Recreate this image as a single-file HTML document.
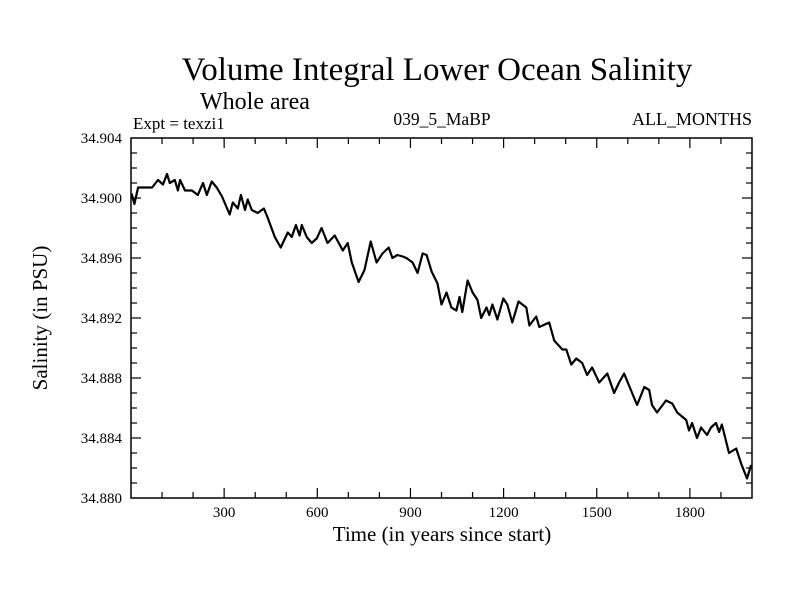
<!DOCTYPE html>
<html><head><meta charset="utf-8"><style>
body{margin:0;background:#fff}
svg text{font-family:"Liberation Serif",serif;fill:#000}
</style></head><body>
<svg id="chart" width="800" height="600" xmlns="http://www.w3.org/2000/svg">
<text x="437" y="80" font-size="33" text-anchor="middle">Volume Integral Lower Ocean Salinity</text>
<text x="200" y="109" font-size="24">Whole area</text>
<text x="133" y="129" font-size="17">Expt = texzi1</text>
<text x="442" y="125" font-size="17.5" text-anchor="middle">039_5_MaBP</text>
<text x="752" y="125" font-size="18" text-anchor="end">ALL_MONTHS</text>
<text transform="translate(47,318) rotate(-90)" font-size="21" text-anchor="middle">Salinity (in PSU)</text>
<text x="442" y="541" font-size="21" text-anchor="middle">Time (in years since start)</text>
<g id="axes"></g>
<rect x="131" y="138" width="621" height="360" fill="none" stroke="#000" stroke-width="1.5"/>
<path id="line" fill="none" stroke="#000" stroke-width="2.2" stroke-linejoin="round"/>
</svg>
<script>
const years=[2,11,23,45,68,87,103,116,125,141,151,158,174,196,215,232,244,260,276,293,318,328,344,354,367,376,389,408,428,440,463,482,505,518,531,543,550,566,582,598,614,633,656,682,698,711,733,752,772,791,810,830,842,858,875,887,907,923,939,952,968,987,1000,1016,1032,1048,1058,1067,1084,1100,1116,1128,1145,1154,1164,1180,1199,1212,1228,1248,1273,1283,1305,1315,1347,1363,1389,1402,1418,1434,1453,1469,1485,1508,1534,1556,1572,1588,1604,1630,1653,1669,1678,1694,1723,1743,1759,1788,1797,1807,1823,1836,1855,1868,1884,1894,1903,1926,1949,1965,1984,1997];
const salinity=[34.9003,34.8996,34.9007,34.9007,34.9007,34.9012,34.9009,34.9016,34.9010,34.9012,34.9005,34.9012,34.9005,34.9005,34.9002,34.9010,34.9002,34.9011,34.9007,34.9001,34.8989,34.8997,34.8993,34.9002,34.8992,34.8999,34.8992,34.8990,34.8993,34.8987,34.8974,34.8967,34.8977,34.8974,34.8982,34.8975,34.8982,34.8974,34.8970,34.8973,34.8980,34.8970,34.8975,34.8965,34.8970,34.8957,34.8944,34.8952,34.8971,34.8957,34.8963,34.8967,34.8960,34.8962,34.8961,34.8960,34.8957,34.8950,34.8963,34.8962,34.8951,34.8943,34.8929,34.8937,34.8927,34.8925,34.8934,34.8924,34.8945,34.8937,34.8932,34.8920,34.8927,34.8922,34.8929,34.8919,34.8933,34.8929,34.8917,34.8931,34.8927,34.8915,34.8921,34.8914,34.8917,34.8905,34.8899,34.8899,34.8889,34.8893,34.8890,34.8882,34.8887,34.8877,34.8883,34.8870,34.8877,34.8883,34.8875,34.8862,34.8874,34.8872,34.8862,34.8857,34.8865,34.8863,34.8857,34.8852,34.8845,34.8850,34.8840,34.8847,34.8842,34.8847,34.8850,34.8844,34.8849,34.8830,34.8833,34.8823,34.8813,34.8822];
const xTicks=[300,600,900,1200,1500,1800];
const yTicks=["34.880","34.884","34.888","34.892","34.896","34.900","34.904"];
const X0=131,X1=752,Y0=498,Y1=138,xMin=0,xMax=2000,yMin=34.880,yMax=34.904;
function sx(v){return X0+(v-xMin)/(xMax-xMin)*(X1-X0);}
function sy(v){return Y0-(v-yMin)/(yMax-yMin)*(Y0-Y1);}
const NS="http://www.w3.org/2000/svg",g=document.getElementById('axes');
function ln(x1,y1,x2,y2,name){const l=document.createElementNS(NS,'line');l.setAttribute('x1',x1);l.setAttribute('y1',y1);l.setAttribute('x2',x2);l.setAttribute('y2',y2);l.setAttribute('stroke','#000');l.setAttribute('stroke-width','1.2');


g.appendChild(l);}
for(let v=100;v<2000;v+=100){const x=sx(v),L=v%300===0?10:6;ln(x,Y0,x,Y0-L,'x-tick');ln(x,Y1,x,Y1+L,'x-tick-top');}
for(let i=1;i<24;i++){const v=yMin+i*0.001,y=sy(v),L=i%4===0?10:6;ln(X0,y,X0+L,y,'y-tick');ln(X1,y,X1-L,y,'y-tick-right');}
xTicks.forEach(v=>{const t=document.createElementNS(NS,'text');t.setAttribute('x',sx(v));t.setAttribute('y',Y0+19);t.setAttribute('font-size','15');t.setAttribute('text-anchor','middle');t.textContent=v;


g.appendChild(t);});
yTicks.forEach(s=>{const t=document.createElementNS(NS,'text');t.setAttribute('x',X0-9);t.setAttribute('y',sy(parseFloat(s))+5);t.setAttribute('font-size','15');t.setAttribute('text-anchor','end');t.textContent=s;


g.appendChild(t);});
document.getElementById('line').setAttribute('d',years.map((y,i)=>(i?'L':'M')+sx(y).toFixed(1)+','+sy(salinity[i]).toFixed(1)).join(''));
</script>
</body></html>
